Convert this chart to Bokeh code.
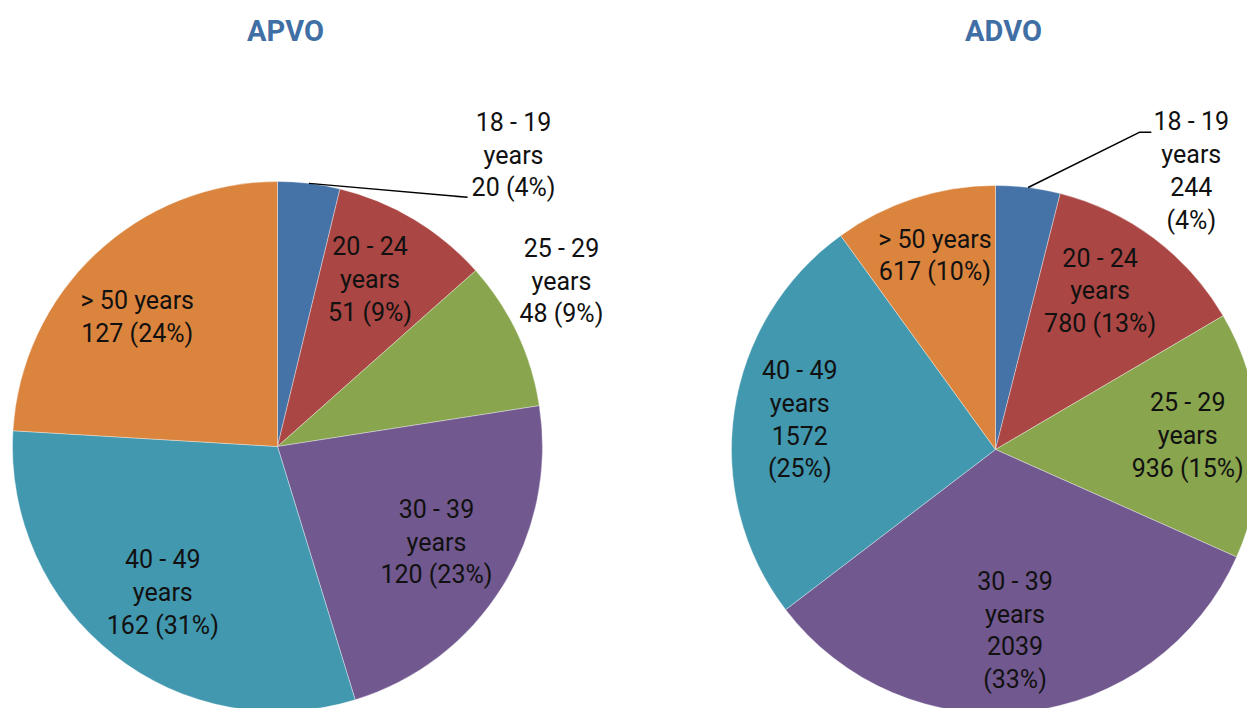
import math
from bokeh.plotting import figure
from bokeh.models import Range1d, ColumnDataSource
from bokeh.core.properties import value
from bokeh.embed import file_html
from bokeh.resources import INLINE

# ---- data ----
ages = ["18 - 19", "20 - 24", "25 - 29", "30 - 39", "40 - 49", "> 50"]
apvo_values = [20, 51, 48, 120, 162, 127]
apvo_pcts = [4, 9, 9, 23, 31, 24]
advo_values = [244, 780, 936, 2039, 1572, 617]
advo_pcts = [4, 13, 15, 33, 25, 10]
titles = ["APVO", "ADVO"]
colors = ["#4572A7", "#AA4643", "#89A54E", "#71588F", "#4198AF", "#DB843D"]

# label line layouts (how each label wraps)
apvo_fmt = ["{a}\nyears\n{v} ({p}%)", "{a}\nyears\n{v} ({p}%)", "{a}\nyears\n{v} ({p}%)",
            "{a}\nyears\n{v} ({p}%)", "{a}\nyears\n{v} ({p}%)", "{a} years\n{v} ({p}%)"]
advo_fmt = ["{a}\nyears\n{v}\n({p}%)", "{a}\nyears\n{v} ({p}%)", "{a}\nyears\n{v} ({p}%)",
            "{a}\nyears\n{v}\n({p}%)", "{a}\nyears\n{v}\n({p}%)", "{a} years\n{v} ({p}%)"]

# ---- layout (screenshot pixel coordinates) ----
W, H = 1247, 708
pies = [
    dict(cx=277, cy=446, r=265, vals=apvo_values, pcts=apvo_pcts, fmt=apvo_fmt,
         dist=[1.415, 0.72, 1.24, 0.70, 0.70, 0.72], dang=[32.2, -2, -5, -1, 0, -4],
         lead=[(-46, 42), (-59, 41)], tx=285),
    dict(cx=995, cy=449, r=264, vals=advo_values, pcts=advo_pcts, fmt=advo_fmt,
         dist=[1.29, 0.72, 0.73, 0.69, 0.75, 0.77], dang=[28, -3.5, -1, 0.5, 0.3, 0.6],
         lead=[(-52, -38.5), (-40, -38.5)], tx=1003),
]

p = figure(width=W, height=H, output_backend="svg", toolbar_location=None,
           x_range=Range1d(0, W), y_range=Range1d(0, H), min_border=0)
p.axis.visible = False
p.grid.visible = False
p.outline_line_color = None
p.background_fill_color = "white"

def Y(py):
    return H - py

for pie in pies:
    vals = pie["vals"]
    total = float(sum(vals))
    cum = [0.0]
    for v in vals:
        cum.append(cum[-1] + v / total)
    starts = [math.pi / 2 - 2 * math.pi * c for c in cum[:-1]]
    ends = [math.pi / 2 - 2 * math.pi * c for c in cum[1:]]
    src = ColumnDataSource(dict(x=[pie["cx"]] * len(vals), y=[Y(pie["cy"])] * len(vals),
                                s=starts, e=ends, c=colors))
    p.wedge(x="x", y="y", radius=pie["r"], start_angle="s", end_angle="e",
            direction="clock", fill_color="c", line_color="white", line_width=0.6,
            line_alpha=0.6, source=src)

    lx, ly, lt = [], [], []
    for i, v in enumerate(vals):
        mid = (cum[i] + cum[i + 1]) / 2 * 360 + pie["dang"][i]
        d = pie["dist"][i] * pie["r"]
        x = pie["cx"] + d * math.sin(math.radians(mid))
        y = pie["cy"] - d * math.cos(math.radians(mid))
        lx.append(x)
        ly.append(Y(y))
        lt.append(pie["fmt"][i].format(a=ages[i], v=v, p=pie["pcts"][i]))
        if i == 0:
            midr = (cum[0] + cum[1]) / 2 * 360
            sx = pie["cx"] + pie["r"] * math.sin(math.radians(midr))
            sy = pie["cy"] - pie["r"] * math.cos(math.radians(midr))
            (e1x, e1y), (e2x, e2y) = pie["lead"]
            p.line([sx, x + e1x, x + e2x], [Y(sy), Y(y + e1y), Y(y + e2y)],
                   line_color="black", line_width=1.5)
    p.text(x=lx, y=ly, text=lt, text_align="center", text_baseline="middle",
           text_font=value("Roboto"), text_font_size="25px", text_color="#111111",
           text_line_height=1.13)

p.text(x=[pie["tx"] for pie in pies], y=[Y(30)] * 2, text=titles,
       text_align="center", text_baseline="middle", text_font=value("Roboto"),
       text_font_size="29px", text_font_style="bold", text_color="#3F6FA5")

open("out.html", "w").write(file_html(p, INLINE))
